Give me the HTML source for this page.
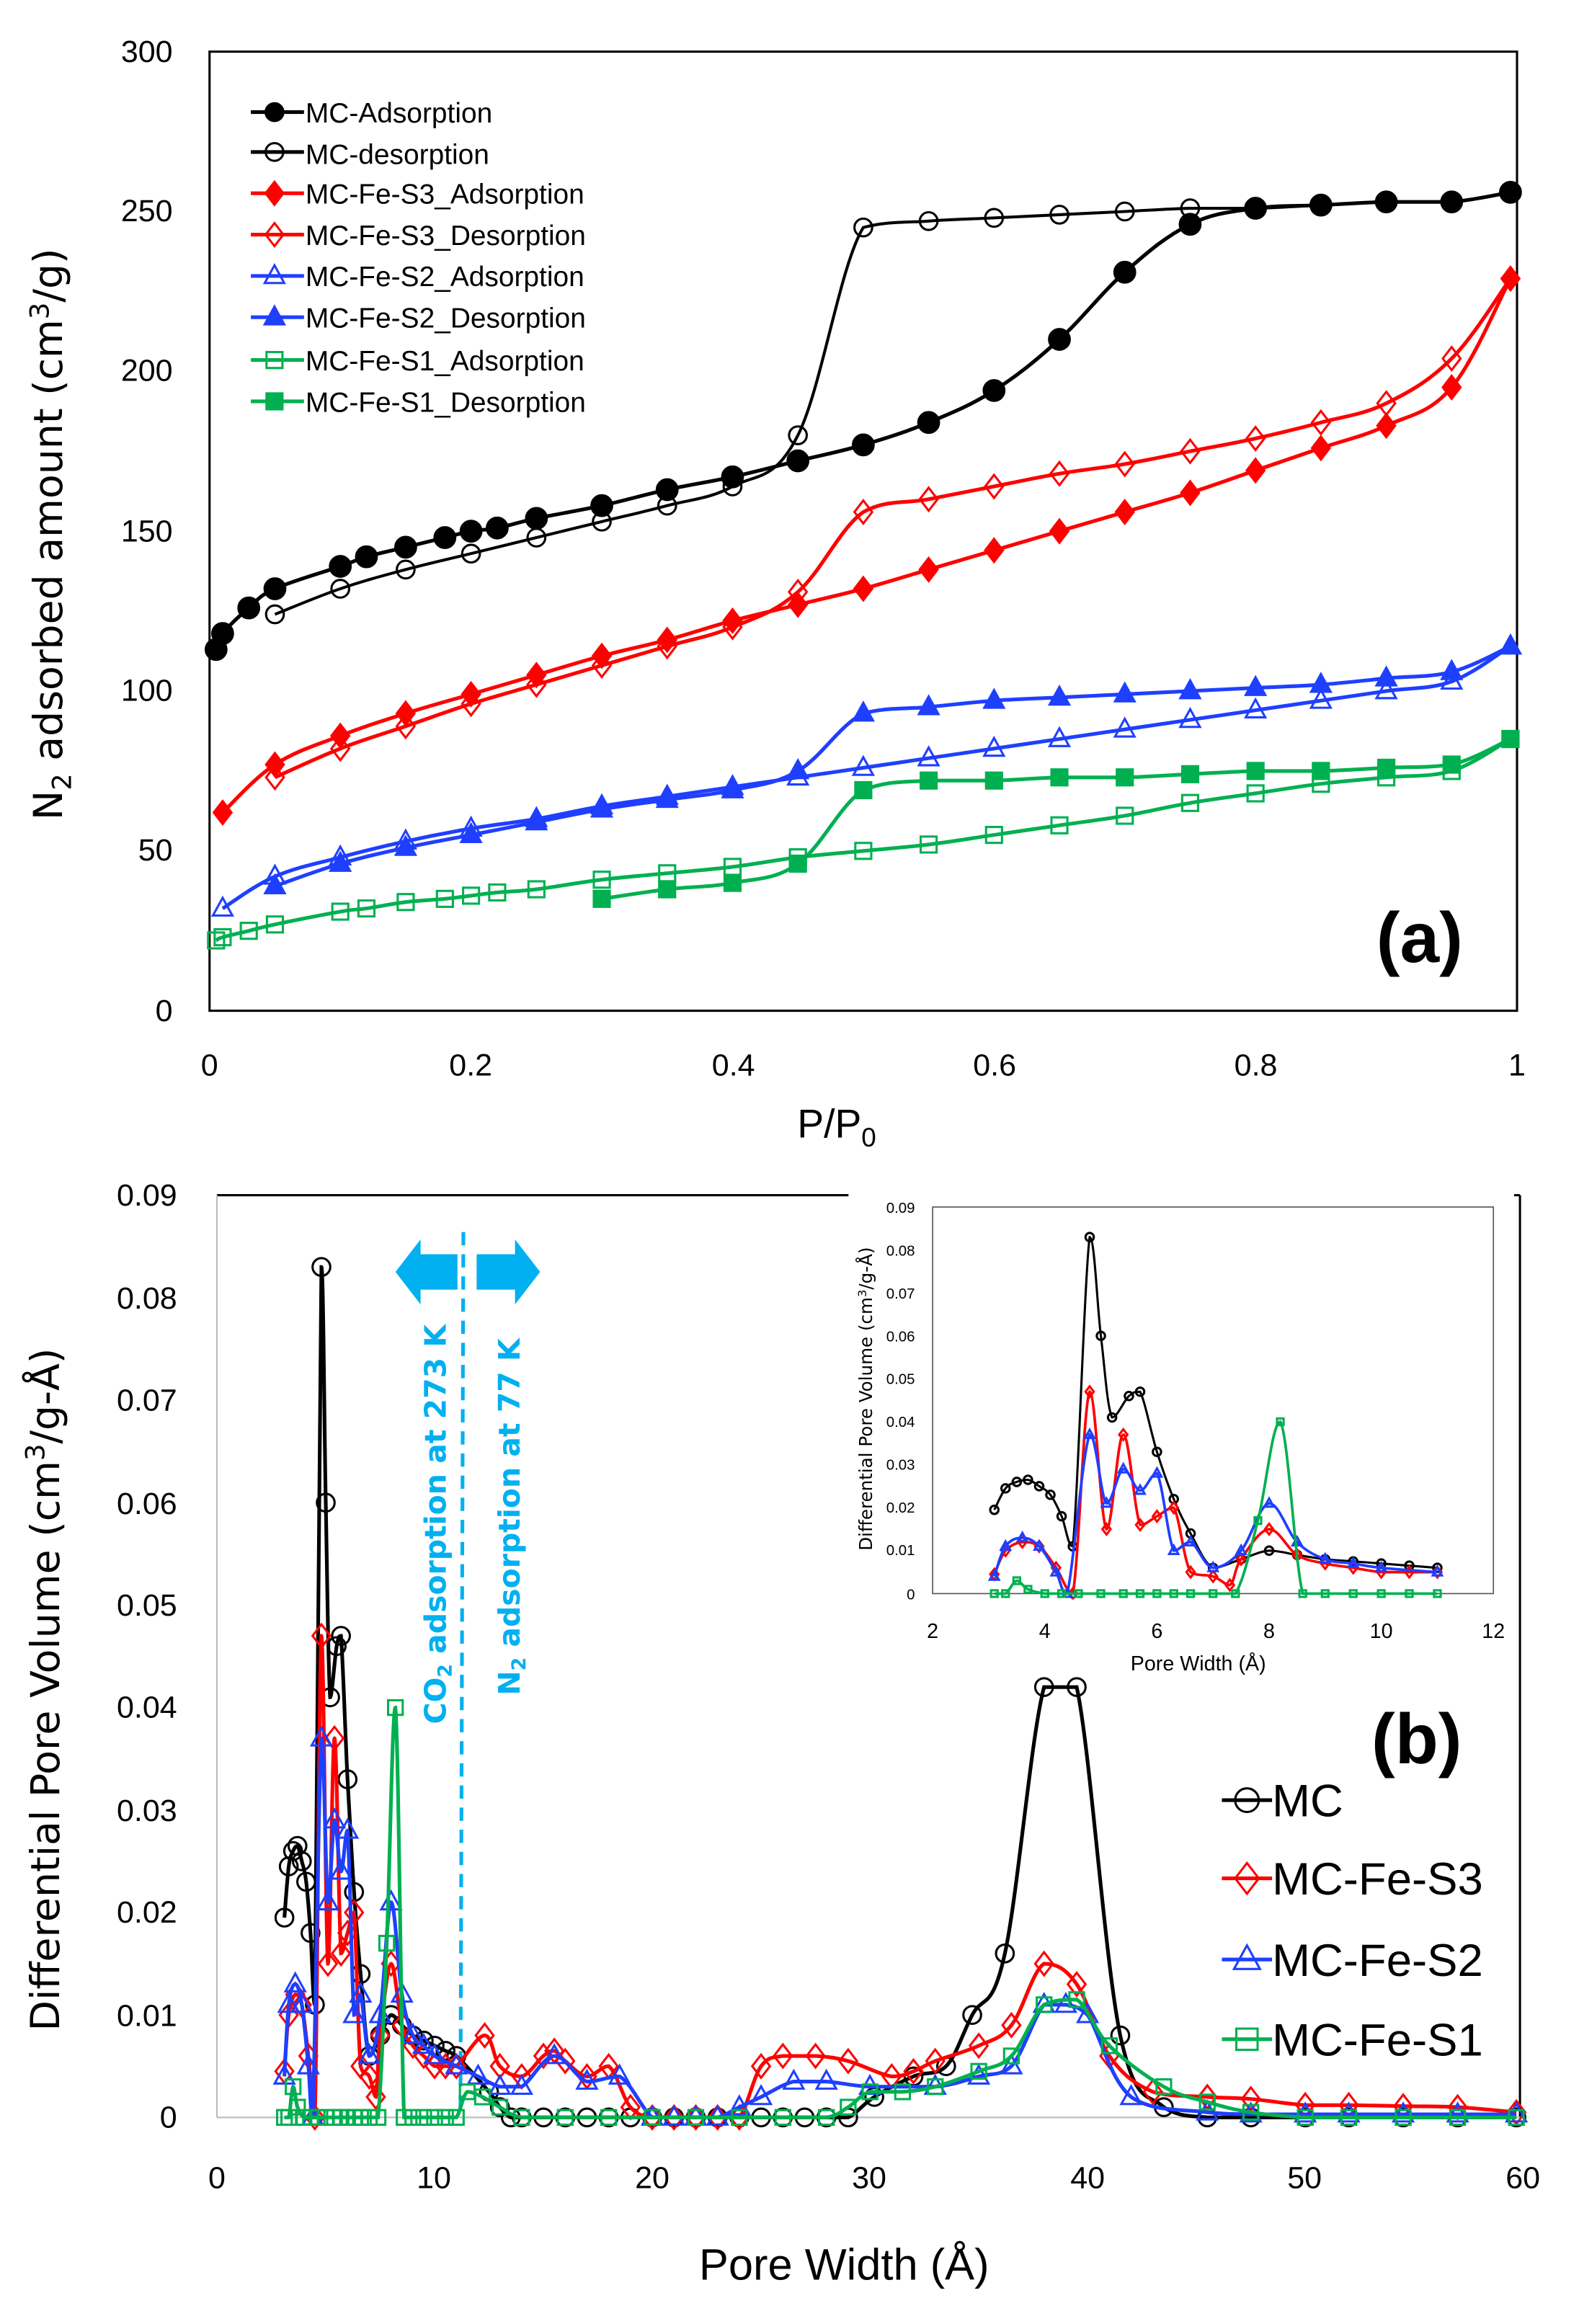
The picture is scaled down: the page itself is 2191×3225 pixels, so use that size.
<!DOCTYPE html>
<html><head><meta charset="utf-8">
<style>
html,body{margin:0;padding:0;background:#fff;}
svg{display:block;}
text{font-family:"Liberation Sans",sans-serif;}
.dv{font-family:"DejaVu Sans",sans-serif;}
</style></head>
<body>
<svg id="s" width="2191" height="3225" viewBox="0 0 1070 1575" preserveAspectRatio="none" xmlns="http://www.w3.org/2000/svg">
<rect width="1070" height="1575" fill="#fff"/>
<rect x="142" y="35" width="886" height="650" fill="none" stroke="#000" stroke-width="1.5"/>
<g font-size="21" text-anchor="end" fill="#000">
<text x="117" y="42">300</text><text x="117" y="150">250</text><text x="117" y="258">200</text>
<text x="117" y="367">150</text><text x="117" y="475">100</text><text x="117" y="583">50</text><text x="117" y="692">0</text>
</g>
<g font-size="21" text-anchor="middle">
<text x="142" y="729">0</text><text x="319" y="729">0.2</text><text x="497" y="729">0.4</text>
<text x="674" y="729">0.6</text><text x="851" y="729">0.8</text><text x="1028" y="729">1</text>
</g>
<text x="567" y="771" font-size="27" text-anchor="middle">P/P<tspan font-size="18" dy="6">0</tspan></text>
<text class="dv" transform="translate(42,362) rotate(-90)" font-size="27" text-anchor="middle">N<tspan font-size="18" dy="6">2</tspan><tspan dy="-6"> adsorbed amount (cm</tspan><tspan font-size="18" dy="-9">3</tspan><tspan dy="9">/g)</tspan></text>
<text x="962" y="652" font-size="48" font-weight="bold" text-anchor="middle">(a)</text>
<g font-size="19" class="dv">
<text x="207" y="83">MC-Adsorption</text><text x="207" y="111">MC-desorption</text>
<text x="207" y="138">MC-Fe-S3_Adsorption</text><text x="207" y="166">MC-Fe-S3_Desorption</text>
<text x="207" y="194">MC-Fe-S2_Adsorption</text><text x="207" y="222">MC-Fe-S2_Desorption</text>
<text x="207" y="251">MC-Fe-S1_Adsorption</text><text x="207" y="279">MC-Fe-S1_Desorption</text>
</g>
<g id="ga"></g>

<line x1="147" y1="810" x2="575" y2="810" stroke="#000" stroke-width="1.5"/>
<line x1="1030" y1="810" x2="1030" y2="1435" stroke="#000" stroke-width="1.5"/>
<line x1="1026" y1="810" x2="1030" y2="810" stroke="#000" stroke-width="1.5"/>
<line x1="147" y1="810" x2="147" y2="1435" stroke="#bbb" stroke-width="1"/>
<line x1="147" y1="1435" x2="1032" y2="1435" stroke="#bbb" stroke-width="1"/>
<g font-size="21" text-anchor="end">
<text x="120" y="817">0.09</text><text x="120" y="887">0.08</text><text x="120" y="956">0.07</text>
<text x="120" y="1026">0.06</text><text x="120" y="1095">0.05</text><text x="120" y="1164">0.04</text>
<text x="120" y="1234">0.03</text><text x="120" y="1303">0.02</text><text x="120" y="1373">0.01</text><text x="120" y="1442">0</text>
</g>
<g font-size="21" text-anchor="middle">
<text x="147" y="1483">0</text><text x="294" y="1483">10</text><text x="442" y="1483">20</text>
<text x="589" y="1483">30</text><text x="737" y="1483">40</text><text x="884" y="1483">50</text><text x="1032" y="1483">60</text>
</g>
<text x="572" y="1545" font-size="30" text-anchor="middle">Pore Width (Å)</text>
<text class="dv" transform="translate(40,1145) rotate(-90)" font-size="27" text-anchor="middle">Differential Pore Volume (cm<tspan font-size="18" dy="-10">3</tspan><tspan dy="10">/g-Å)</tspan></text>
<text x="960" y="1195" font-size="48" font-weight="bold" text-anchor="middle">(b)</text>
<g font-size="31">
<text x="862" y="1231">MC</text><text x="862" y="1284">MC-Fe-S3</text>
<text x="862" y="1339">MC-Fe-S2</text><text x="862" y="1393">MC-Fe-S1</text>
</g>
<polygon points="268,862 285,840 285,850 310,850 310,874 285,874 285,884" fill="#00b0f0"/>
<polygon points="366,862 349,840 349,850 323,850 323,874 349,874 349,884" fill="#00b0f0"/>
<line x1="314" y1="835" x2="312" y2="1435" stroke="#00b0f0" stroke-width="2.5" stroke-dasharray="9,6"/>
<text class="dv" transform="translate(302,1033) rotate(-90)" font-size="20" font-weight="bold" fill="#00b0f0" text-anchor="middle">CO<tspan font-size="13" dy="4">2</tspan><tspan dy="-4"> adsorption at 273 K</tspan></text>
<text class="dv" transform="translate(352,1028) rotate(-90)" font-size="20" font-weight="bold" fill="#00b0f0" text-anchor="middle">N<tspan font-size="13" dy="4">2</tspan><tspan dy="-4"> adsorption at 77 K</tspan></text>
<g id="gb"></g>

<rect x="575" y="805" width="450" height="330" fill="#fff"/>
<rect x="632" y="818" width="380" height="262" fill="none" stroke="#555" stroke-width="0.8"/>
<g font-size="10" text-anchor="end">
<text x="620" y="822">0.09</text><text x="620" y="851">0.08</text><text x="620" y="880">0.07</text>
<text x="620" y="909">0.06</text><text x="620" y="938">0.05</text><text x="620" y="967">0.04</text>
<text x="620" y="996">0.03</text><text x="620" y="1025">0.02</text><text x="620" y="1054">0.01</text><text x="620" y="1084">0</text>
</g>
<g font-size="14" text-anchor="middle">
<text x="632" y="1110">2</text><text x="708" y="1110">4</text><text x="784" y="1110">6</text>
<text x="860" y="1110">8</text><text x="936" y="1110">10</text><text x="1012" y="1110">12</text>
</g>
<text x="812" y="1132" font-size="14" text-anchor="middle">Pore Width (Å)</text>
<text class="dv" transform="translate(591,948) rotate(-90)" font-size="12" text-anchor="middle">Differential Pore Volume (cm<tspan font-size="8" dy="-4">3</tspan><tspan dy="4">/g-Å)</tspan></text>
<clipPath id="ci"><rect x="632" y="812" width="385" height="272"/></clipPath>
<g id="gi" clip-path="url(#ci)"></g>
</svg>
<script>
var NS="http://www.w3.org/2000/svg";
function el(p,t,a){var e=document.createElementNS(NS,t);for(var k in a)e.setAttribute(k,a[k]);p.appendChild(e);return e;}
function cl(v,a,b){var lo=Math.min(a,b),hi=Math.max(a,b);return Math.max(lo,Math.min(hi,v));}
function smooth(pts){if(pts.length<2)return"";var d="M"+pts[0][0]+","+pts[0][1];
for(var i=0;i<pts.length-1;i++){var p0=pts[i-1]||pts[i],p1=pts[i],p2=pts[i+1],p3=pts[i+2]||p2;var t=0.18;
var c1y=cl(p1[1]+(p2[1]-p0[1])*t,p1[1],p2[1]),c2y=cl(p2[1]-(p3[1]-p1[1])*t,p1[1],p2[1]);
d+=" C"+(p1[0]+(p2[0]-p0[0])*t)+","+c1y+" "+(p2[0]-(p3[0]-p1[0])*t)+","+c2y+" "+p2[0]+","+p2[1];}return d;}
function marker(g,x,y,type,fill,col,s){
 var sw=1.5;
 if(type=="c")el(g,"circle",{cx:x,cy:y,r:s,fill:fill?col:"none",stroke:col,"stroke-width":sw});
 else if(type=="d")el(g,"polygon",{points:[x,y-s*1.3,x+s,y,x,y+s*1.3,x-s,y].join(","),fill:fill?col:"none",stroke:col,"stroke-width":sw});
 else if(type=="t")el(g,"polygon",{points:[x,y-s*1.2,x+s*1.1,y+s*0.8,x-s*1.1,y+s*0.8].join(","),fill:fill?col:"none",stroke:col,"stroke-width":sw});
 else el(g,"rect",{x:x-s*0.9,y:y-s*0.9,width:s*1.8,height:s*1.8,fill:fill?col:"none",stroke:col,"stroke-width":sw});
}
function series(g,pts,col,type,fill,s,lw){el(g,"path",{d:smooth(pts),fill:"none",stroke:col,"stroke-width":lw});
 pts.forEach(function(p){marker(g,p[0],p[1],type,fill,col,s);});}
var ga=document.getElementById("ga");
function XA(p){return 142+886*p}function YA(v){return 685-650*v/300}
function A(a){var o=[];for(var i=0;i<a.length;i+=2)o.push([XA(a[i]),YA(a[i+1])]);return o;}
var K="#000",R="#ff0000",B="#1f3fff",G="#00b050";
series(ga,A([0.3,35,0.35,38,0.4,40,0.45,46,0.5,69,0.55,72,0.6,72,0.65,73,0.7,73,0.75,74,0.8,75,0.85,75,0.9,76,0.95,77,0.995,85]),G,"s",1,6,2.5);
series(ga,A([0.005,22,0.01,23,0.03,25,0.05,27,0.1,31,0.12,32,0.15,34,0.18,35,0.2,36,0.22,37,0.25,38,0.3,41,0.35,43,0.4,45,0.45,48,0.5,50,0.55,52,0.6,55,0.65,58,0.7,61,0.75,65,0.8,68,0.85,71,0.9,73,0.95,75,0.995,85]),G,"s",0,6,2.5);
series(ga,A([0.05,39,0.1,46,0.15,51,0.2,55,0.25,59,0.3,63,0.35,66,0.4,69,0.45,75,0.5,93,0.55,95,0.6,97,0.65,98,0.7,99,0.75,100,0.8,101,0.85,102,0.9,104,0.95,106,0.995,114]),B,"t",1,6,2.5);
series(ga,A([0.01,32,0.05,42,0.1,48,0.15,53,0.2,57,0.25,60,0.3,64,0.35,67,0.4,70,0.45,73,0.5,76,0.55,79,0.6,82,0.65,85,0.7,88,0.75,91,0.8,94,0.85,97,0.9,100,0.95,103,0.995,114]),B,"t",0,6,2.5);
series(ga,A([0.05,73,0.1,82,0.15,89,0.2,96,0.25,102,0.3,108,0.35,114,0.4,120,0.45,131,0.5,156,0.55,160,0.6,164,0.65,168,0.7,171,0.75,175,0.8,179,0.85,184,0.9,190,0.95,204,0.995,229]),R,"d",0,6,2.5);
series(ga,A([0.01,62,0.05,77,0.1,86,0.15,93,0.2,99,0.25,105,0.3,111,0.35,116,0.4,122,0.45,127,0.5,132,0.55,138,0.6,144,0.65,150,0.7,156,0.75,162,0.8,169,0.85,176,0.9,183,0.95,195,0.995,229]),R,"d",1,6,2.5);
series(ga,A([0.05,124,0.1,132,0.15,138,0.2,143,0.25,148,0.3,153,0.35,158,0.4,164,0.45,180,0.5,245,0.55,247,0.6,248,0.65,249,0.7,250,0.75,251,0.8,251,0.85,252,0.9,253,0.95,253,0.995,256]),K,"c",0,6,2);
series(ga,A([0.005,113,0.01,118,0.03,126,0.05,132,0.1,139,0.12,142,0.15,145,0.18,148,0.2,150,0.22,151,0.25,154,0.3,158,0.35,163,0.4,167,0.45,172,0.5,177,0.55,184,0.6,194,0.65,210,0.7,231,0.75,246,0.8,251,0.85,252,0.9,253,0.95,253,0.995,256]),K,"c",1,7,2.5);
var leg=[[K,"c",1],[K,"c",0],[R,"d",1],[R,"d",0],[B,"t",0],[B,"t",1],[G,"s",0],[G,"s",1]],ly=[76,103,131,159,187,215,244,272];
leg.forEach(function(l,i){el(ga,"line",{x1:170,y1:ly[i],x2:206,y2:ly[i],stroke:l[0],"stroke-width":2.5});marker(ga,186,ly[i],l[1],l[2],l[0],6);});
var MC=[3.1,0.0195,3.3,0.0245,3.5,0.026,3.7,0.0265,3.9,0.025,4.1,0.023,4.3,0.018,4.5,0.011,4.8,0.083,5,0.06,5.2,0.041,5.5,0.046,5.7,0.047,6,0.033,6.3,0.022,6.6,0.014,7,0.006,7.5,0.008,8,0.01,8.5,0.009,9,0.008,9.5,0.0075,10,0.007,10.5,0.0065,11,0.006,12.5,0.0025,13,0.001,13.5,0,14,0,15,0,16,0,17,0,18,0,19,0,20,0,21,0,22,0,23,0,24,0,25,0,26,0,27,0,28,0,29,0,30.2,0.002,32,0.004,33.5,0.005,34.7,0.01,36.2,0.016,38,0.042,39.5,0.042,41.5,0.008,43.5,0.001,45.5,0,47.5,0,50,0,52,0,54.5,0,57,0,59.7,0];
var S3=[3.1,0.0045,3.3,0.01,3.6,0.012,3.9,0.011,4.2,0.006,4.5,0,4.8,0.047,5.1,0.015,5.4,0.037,5.7,0.016,6,0.018,6.3,0.02,6.6,0.005,7,0.004,7.3,0.002,7.5,0.008,8,0.015,8.5,0.009,9,0.007,9.5,0.006,10,0.005,10.5,0.005,11,0.005,12.3,0.008,13,0.005,14,0.004,15,0.006,15.5,0.0065,16,0.0055,17,0.004,18,0.005,19,0.001,20,0,21,0,22,0,23,0,24,0,25,0.005,26,0.006,27.5,0.006,29,0.0055,31,0.004,32,0.0045,33,0.0055,35,0.007,36.5,0.009,38,0.015,39.5,0.013,41,0.006,43,0.0025,45.5,0.002,47.5,0.0018,50,0.0012,52,0.0012,54.5,0.0011,57,0.001,59.7,0.0005];
var S2=[3.1,0.004,3.3,0.011,3.6,0.013,3.9,0.011,4.2,0.005,4.4,0,4.8,0.037,5.1,0.021,5.4,0.029,5.7,0.024,6,0.028,6.3,0.01,6.6,0.012,7,0.006,7.5,0.01,8,0.021,8.5,0.012,9,0.008,9.5,0.007,10,0.006,11,0.005,12,0.004,13,0.003,14,0.003,15.5,0.006,17,0.0035,18.5,0.004,20,0,21,0,22,0,23,0,24,0.001,25,0.002,26.5,0.0035,28,0.0035,30,0.003,33,0.003,35,0.004,36.5,0.005,38,0.011,39,0.011,40,0.01,42,0.002,45.5,0.0005,47.5,0.0003,50,0.0003,52,0.0003,54.5,0.0003,57,0.0003,59.7,0.0003];
var S1=[3.1,0,3.3,0,3.5,0.003,3.7,0.001,4,0,4.3,0,4.6,0,5,0,5.4,0,5.7,0,6,0,6.3,0,6.6,0,7,0,7.4,0,7.8,0.017,8.2,0.04,8.6,0,9,0,9.5,0,10,0,10.5,0,11,0,11.5,0.0025,12.2,0.002,13,0.001,14,0,16,0,18,0,20,0,22,0,24,0,26,0,28,0,29,0.001,30,0.0025,31.5,0.0025,33,0.003,35,0.0045,36.5,0.006,38,0.011,39.5,0.0115,41,0.007,43.5,0.003,45.5,0.0015,47.5,0.0005,50,0,52,0,54.5,0,57,0,59.7,0];
var gb=document.getElementById("gb");
function B2(a,fx,fy){var o=[];for(var i=0;i<a.length;i+=2)o.push([fx(a[i]),fy(a[i+1])]);return o;}
function XB(w){return 147+14.75*w}function YB(v){return 1435-6944*v}
series(gb,B2(MC,XB,YB),K,"c",0,6,2.5);
series(gb,B2(S3,XB,YB),R,"d",0,6,2.5);
series(gb,B2(S2,XB,YB),B,"t",0,6,2.5);
series(gb,B2(S1,XB,YB),G,"s",0,5.5,2.5);
var lb=[[K,"c"],[R,"d"],[B,"t"],[G,"s"]],lyb=[1220,1273,1328,1382];
lb.forEach(function(l,i){el(gb,"line",{x1:828,y1:lyb[i],x2:862,y2:lyb[i],stroke:l[0],"stroke-width":2.5});marker(gb,845,lyb[i],l[1],0,l[0],8);});
var gi=document.getElementById("gi");
function XI(w){return 632+38*(w-2)}function YI(v){return 1080-2911*v}
function cut(a){var o=[];for(var i=0;i<a.length;i+=2)if(a[i]<=11.3)o.push(a[i],a[i+1]);return o;}
series(gi,B2(cut(MC),XI,YI),K,"c",0,2.8,1.5);
series(gi,B2(cut(S3),XI,YI),R,"d",0,2.8,1.8);
series(gi,B2(cut(S2),XI,YI),B,"t",0,2.8,1.8);
series(gi,B2(cut(S1),XI,YI),G,"s",0,2.5,1.8);
</script>
</body></html>
